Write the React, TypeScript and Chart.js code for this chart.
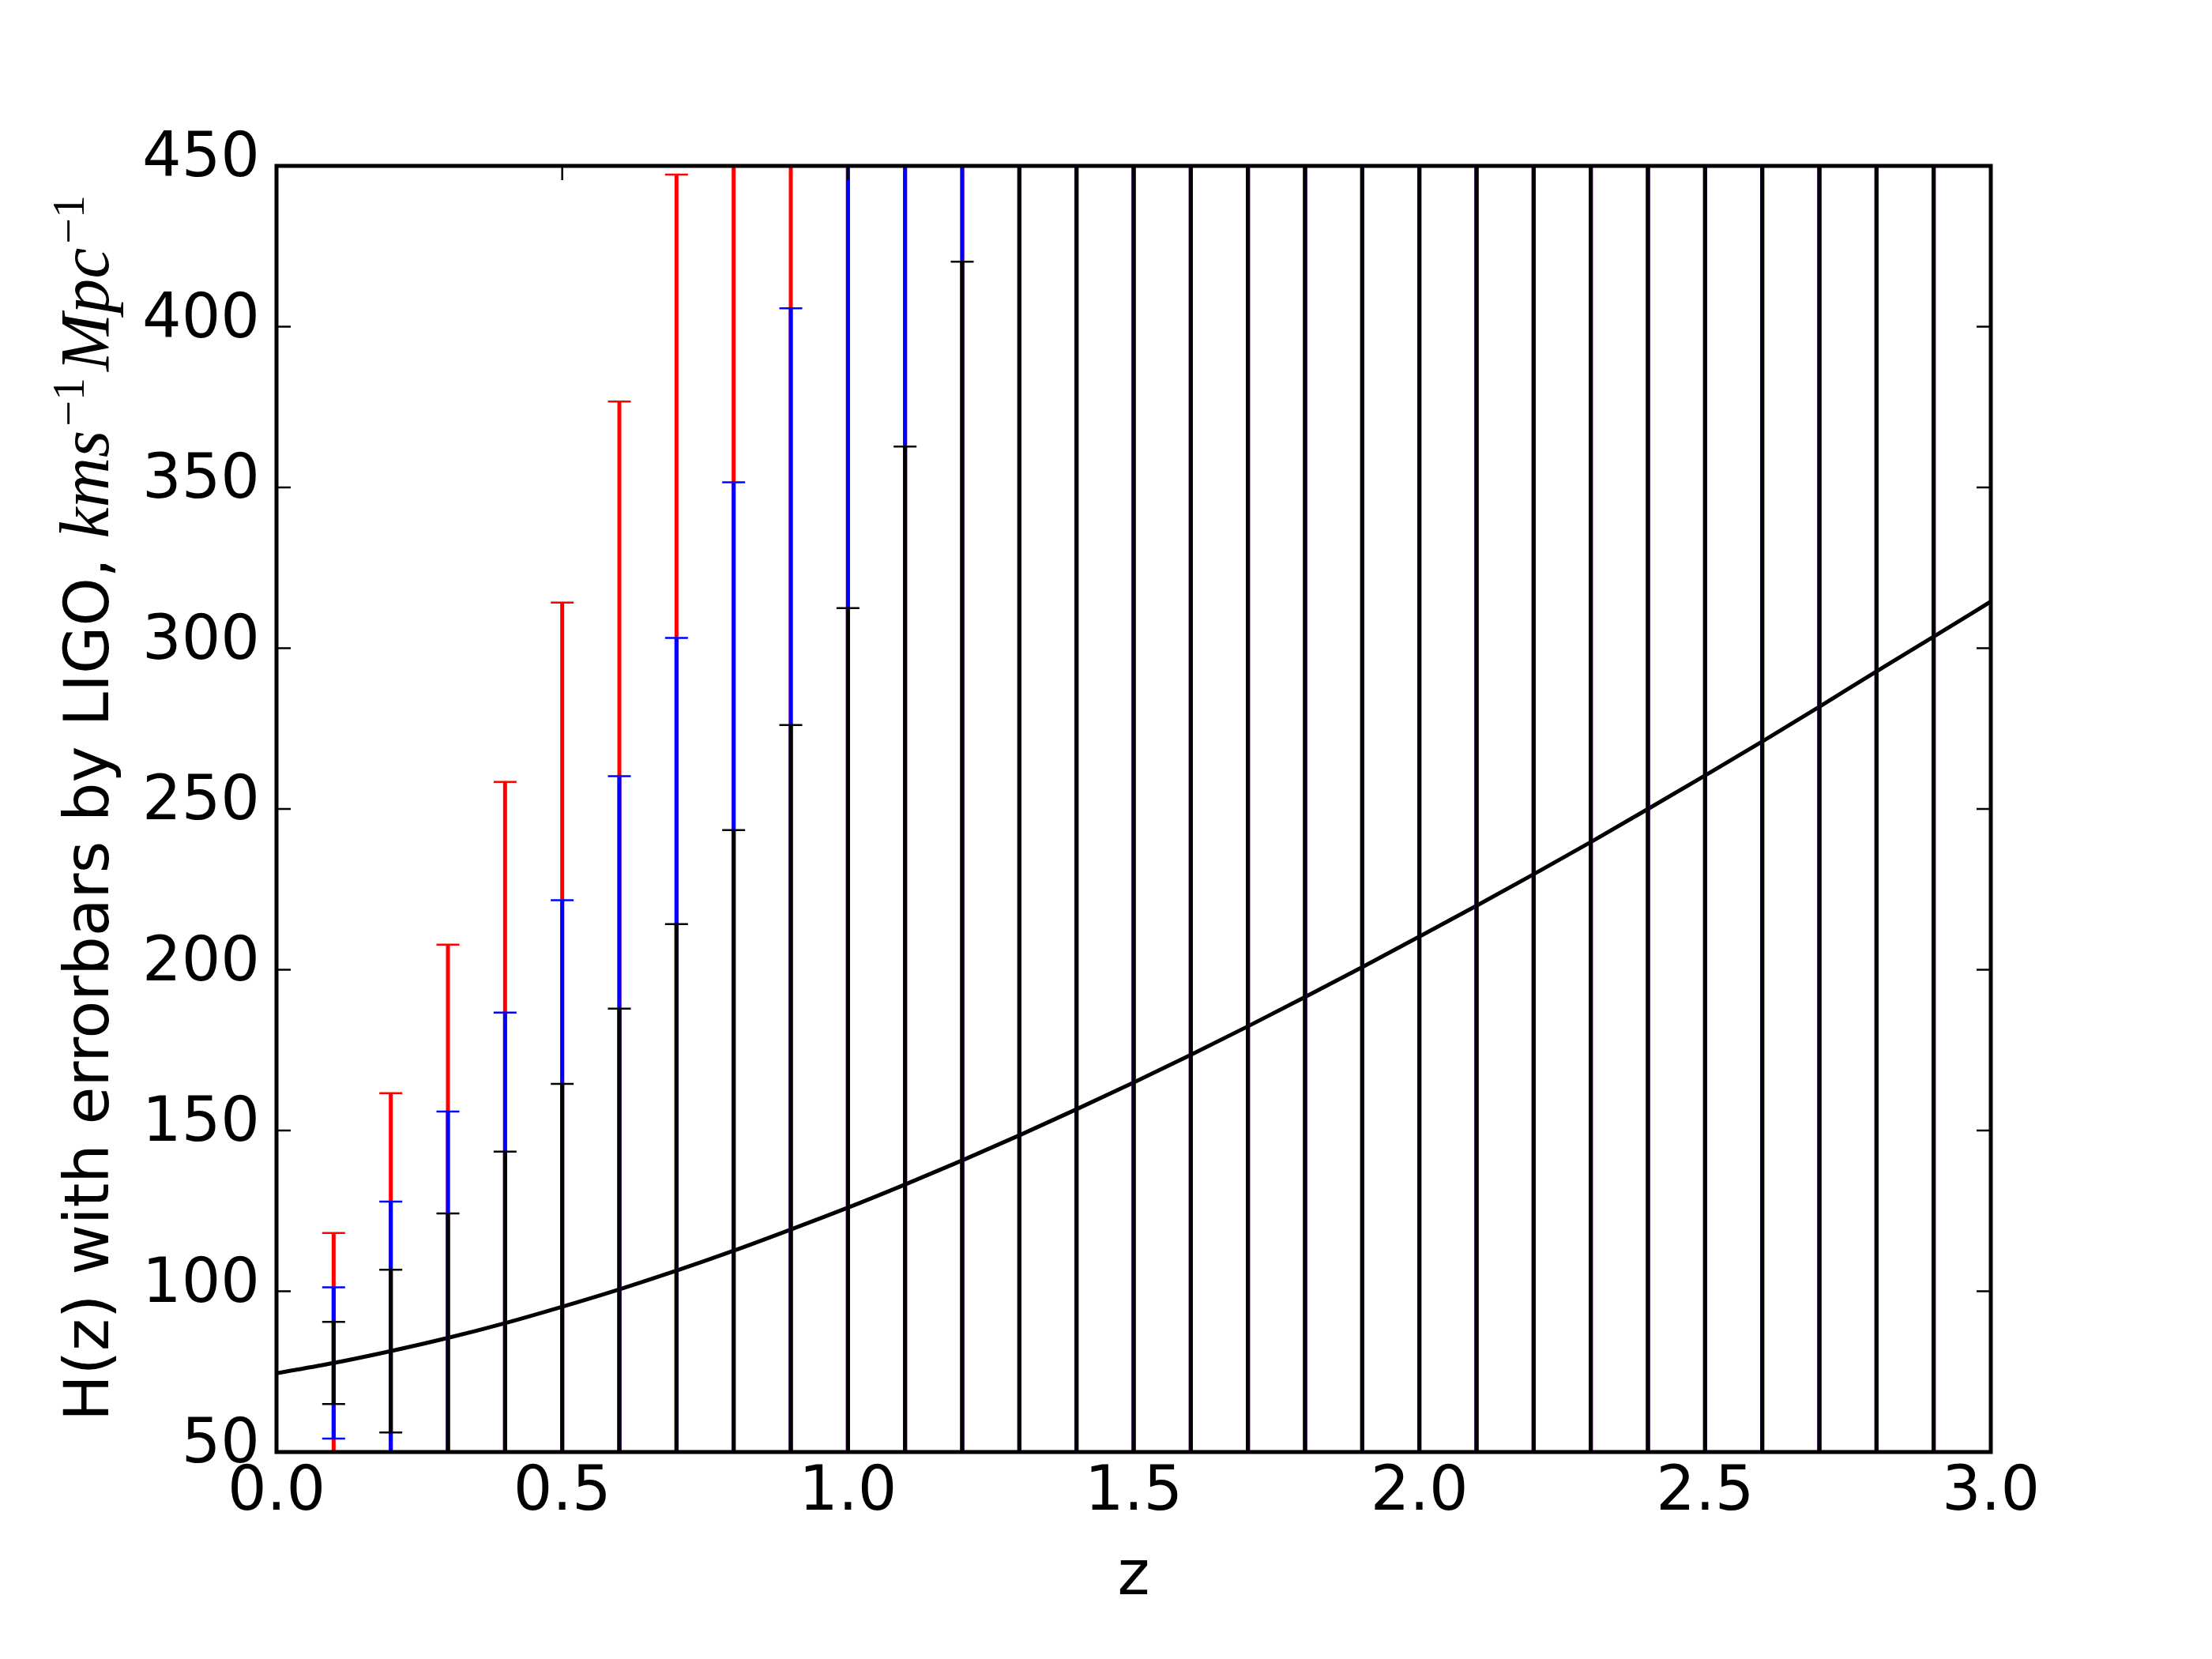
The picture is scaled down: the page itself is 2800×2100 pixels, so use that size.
import React, { useEffect, useRef } from 'react';
import { Chart, registerables } from 'chart.js';

Chart.register(...registerables);

// model curve H(z)
const zCurve = [0.0, 0.1, 0.2, 0.3, 0.4, 0.5, 0.6, 0.7, 0.8, 0.9, 1.0, 1.1, 1.2, 1.3, 1.4, 1.5, 1.6, 1.7, 1.8, 1.9, 2.0, 2.1, 2.2, 2.3, 2.4, 2.5, 2.6, 2.7, 2.8, 2.9, 3.0];
const hCurve = [74.5, 77.7, 81.4, 85.5, 90.1, 95.2, 100.6, 106.4, 112.6, 119.2, 126.0, 133.2, 140.7, 148.5, 156.6, 164.9, 173.5, 182.4, 191.5, 200.8, 210.3, 219.9, 229.7, 239.7, 250.0, 260.4, 271.0, 281.8, 292.8, 303.6, 314.5];

// error bar points
const zErr = [0.1, 0.2, 0.3, 0.4, 0.5, 0.6, 0.7, 0.8, 0.9, 1.0, 1.1, 1.2, 1.3, 1.4, 1.5, 1.6, 1.7, 1.8, 1.9, 2.0, 2.1, 2.2, 2.3, 2.4, 2.5, 2.6, 2.7, 2.8, 2.9];
const hErr = [77.7, 81.4, 85.5, 90.1, 95.2, 100.6, 106.4, 112.6, 119.2, 126.0, 133.2, 140.7, 148.5, 156.6, 164.9, 173.5, 182.4, 191.5, 200.8, 210.3, 219.9, 229.7, 239.7, 250.0, 260.4, 271.0, 281.8, 292.8, 303.6];
const errBlack = [12.8, 25.3, 38.7, 53.3, 69.3, 87.3, 107.8, 130.8, 156.9, 186.5, 229.5, 279.5, 335, 395, 460, 530, 605, 685, 770, 860, 955, 1055, 1160, 1270, 1385, 1505, 1630, 1760, 1895];
const errBlue = [23.5, 46.5, 70.4, 96.6, 126.4, 159.6, 196.8, 239.0, 286.5, 340, 418, 509, 610, 720, 840, 965, 1100, 1245, 1400, 1565, 1740, 1920, 2110, 2310, 2520, 2740, 2965, 3200, 3450];
const errRed = [40.4, 80.2, 122.3, 168.3, 219.0, 276.1, 340.9, 413, 496, 590, 725, 883, 1060, 1250, 1455, 1675, 1910, 2165, 2435, 2720, 3020, 3335, 3665, 4015, 4380, 4760, 5150, 5560, 5990];

const xTicks = [0.0, 0.5, 1.0, 1.5, 2.0, 2.5, 3.0];
const yTicks = [50, 100, 150, 200, 250, 300, 350, 400, 450];

const xTitle = 'z';
const yTitleText = 'H(z) with errorbars by LIGO, ';
const yTitleMath = [
  { t: 'kms', sup: false },
  { t: '\u22121', sup: true },
  { t: 'Mpc', sup: false },
  { t: '\u22121', sup: true },
];

const SANS = '"DejaVu Sans", sans-serif';
const SERIF = '"Liberation Serif", "DejaVu Serif", serif';

const errorBarPlugin = {
  id: 'errorBars',
  afterDatasetsDraw(chart: any) {
    const { ctx, chartArea, scales } = chart;
    const x = scales.x;
    const y = scales.y;
    ctx.save();
    ctx.beginPath();
    ctx.rect(chartArea.left, chartArea.top, chartArea.right - chartArea.left, chartArea.bottom - chartArea.top);
    ctx.clip();
    const layers: [number[], string][] = [
      [errRed, '#ff0000'],
      [errBlue, '#0000ff'],
      [errBlack, '#000000'],
    ];
    for (const [errs, color] of layers) {
      ctx.strokeStyle = color;
      ctx.lineCap = 'butt';
      ctx.lineWidth = 5;
      for (let i = 0; i < zErr.length; i++) {
        const px = x.getPixelForValue(zErr[i]);
        const top = y.getPixelForValue(hErr[i] + errs[i]);
        const bot = y.getPixelForValue(hErr[i] - errs[i]);
        ctx.beginPath();
        ctx.moveTo(px, top);
        ctx.lineTo(px, bot);
        ctx.stroke();
      }
      ctx.lineWidth = 2.5;
      for (let i = 0; i < zErr.length; i++) {
        const px = x.getPixelForValue(zErr[i]);
        const top = y.getPixelForValue(hErr[i] + errs[i]);
        const bot = y.getPixelForValue(hErr[i] - errs[i]);
        ctx.beginPath();
        ctx.moveTo(px - 14.5, top);
        ctx.lineTo(px + 14.5, top);
        ctx.moveTo(px - 14.5, bot);
        ctx.lineTo(px + 14.5, bot);
        ctx.stroke();
      }
    }
    ctx.restore();
  },
};

const framePlugin = {
  id: 'frameAndTitles',
  afterDraw(chart: any) {
    const { ctx, chartArea, scales } = chart;
    const x = scales.x;
    const y = scales.y;
    const { left, right, top, bottom } = chartArea;
    ctx.save();
    ctx.strokeStyle = '#000';
    ctx.lineWidth = 2.5;
    const tl = 18;
    for (const v of yTicks) {
      const py = y.getPixelForValue(v);
      ctx.beginPath();
      ctx.moveTo(left, py);
      ctx.lineTo(left + tl, py);
      ctx.moveTo(right, py);
      ctx.lineTo(right - tl, py);
      ctx.stroke();
    }
    for (const v of xTicks) {
      const px = x.getPixelForValue(v);
      ctx.beginPath();
      ctx.moveTo(px, bottom);
      ctx.lineTo(px, bottom - tl);
      ctx.moveTo(px, top);
      ctx.lineTo(px, top + tl);
      ctx.stroke();
    }
    ctx.lineWidth = 5;
    ctx.strokeRect(left, top, right - left, bottom - top);

    // x title
    ctx.fillStyle = '#000';
    ctx.font = `78px ${SANS}`;
    ctx.textAlign = 'center';
    ctx.textBaseline = 'alphabetic';
    ctx.fillText(xTitle, (left + right) / 2, 2018);

    // y title (rotated, mixed text + math)
    const mainFont = `78px ${SANS}`;
    const mathFont = `italic 88px ${SERIF}`;
    const supFont = `58px ${SERIF}`;
    const pieces: { t: string; font: string; dy: number; padL: number; padR: number }[] = [
      { t: yTitleText, font: mainFont, dy: 0, padL: 0, padR: 0 },
    ];
    for (const m of yTitleMath) {
      pieces.push(m.sup
        ? { t: m.t, font: supFont, dy: -31, padL: 5, padR: 8 }
        : { t: m.t, font: mathFont, dy: 0, padL: 0, padR: 0 });
    }
    let total = 0;
    for (const p of pieces) {
      ctx.font = p.font;
      total += p.padL + ctx.measureText(p.t).width + p.padR;
    }
    ctx.translate(137, 1019);
    ctx.rotate(-Math.PI / 2);
    ctx.textAlign = 'left';
    let cx = -total / 2;
    for (const p of pieces) {
      ctx.font = p.font;
      cx += p.padL;
      ctx.fillText(p.t, cx, p.dy);
      cx += ctx.measureText(p.t).width + p.padR;
    }
    ctx.restore();
  },
};

export default function App() {
  const canvasRef = useRef<HTMLCanvasElement | null>(null);

  useEffect(() => {
    const canvas = canvasRef.current;
    if (!canvas) return;
    const chart = new Chart(canvas, {
      type: 'line',
      data: {
        datasets: [
          {
            label: 'H(z)',
            data: zCurve.map((z, i) => ({ x: z, y: hCurve[i] })),
            borderColor: '#000000',
            borderWidth: 5,
            pointRadius: 0,
            fill: false,
            cubicInterpolationMode: 'monotone',
          },
        ],
      },
      options: {
        animation: false,
        responsive: true,
        maintainAspectRatio: false,
        devicePixelRatio: 1,
        layout: { padding: { top: 210, right: 280, left: 0, bottom: 0 } },
        plugins: {
          legend: { display: false },
          tooltip: { enabled: false },
          title: { display: false },
        },
        scales: {
          x: {
            type: 'linear',
            min: 0,
            max: 3,
            afterFit: (s: any) => { s.height = 262; },
            afterBuildTicks: (s: any) => { s.ticks = xTicks.map((v) => ({ value: v })); },
            grid: { display: false, drawTicks: false, tickLength: 0 },
            border: { display: false },
            ticks: {
              autoSkip: false,
              maxRotation: 0,
              padding: 6,
              color: '#000',
              font: { family: SANS, size: 78 },
              callback: (v: any) => Number(v).toFixed(1),
            },
          },
          y: {
            type: 'linear',
            min: 50,
            max: 450,
            afterFit: (s: any) => { s.width = 350; },
            afterBuildTicks: (s: any) => { s.ticks = yTicks.map((v) => ({ value: v })); },
            grid: { display: false, drawTicks: false, tickLength: 0 },
            border: { display: false },
            ticks: {
              autoSkip: false,
              padding: 21,
              labelOffset: -7,
              color: '#000',
              font: { family: SANS, size: 78 },
              callback: (v: any) => String(v),
            },
          },
        },
      },
      plugins: [errorBarPlugin, framePlugin],
    });
    return () => chart.destroy();
  }, []);

  return (
    <div style={{ position: 'absolute', left: 0, top: 0, width: '2800px', height: '2100px', background: '#fff' }}>
      <canvas ref={canvasRef} />
    </div>
  );
}
